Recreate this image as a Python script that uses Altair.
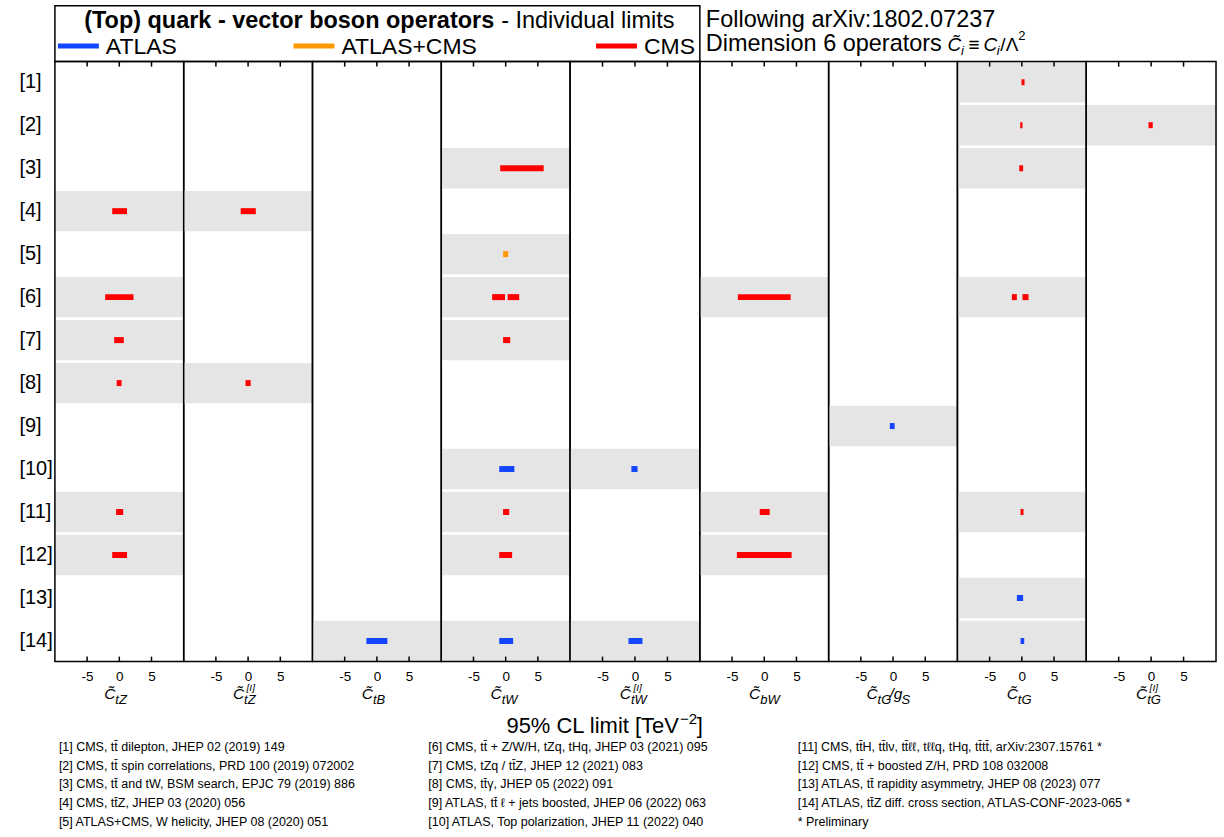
import altair as alt
import pandas as pd

FONT = "Liberation Sans"
GREY = "#e5e5e5"
H = 601
OX, OY = 54, 60

# ---------------- data ----------------
ref_labels = [f"[{i}]" for i in range(1, 15)]
operators = ["tZ", "tZ[I]", "tB", "tW", "tW[I]", "bW", "tG/gS", "tG", "tG[I]"]
op_sub = ["tZ", "tZ", "tB", "tW", "tW", "bW", "tG", "tG", "tG"]
op_sup = ["", "[I]", "", "", "[I]", "", "", "", "[I]"]
experiments = ["ATLAS", "ATLAS+CMS", "CMS"]
exp_colors = ["#1446ff", "#ff9900", "#ff0000"]
tick_values = [-5, 0, 5]

lim_ref = [1, 2, 2, 3, 3, 4, 4, 5, 6, 6, 6, 6, 6, 6, 7, 7, 8, 8, 9, 10, 10,
           11, 11, 11, 11, 12, 12, 12, 13, 14, 14, 14, 14]
lim_op = ["tG", "tG", "tG[I]", "tW", "tG", "tZ", "tZ[I]", "tW",
          "tZ", "tW", "tW", "bW", "tG", "tG", "tZ", "tW", "tZ", "tZ[I]",
          "tG/gS", "tW", "tW[I]", "tZ", "tW", "bW", "tG", "tZ", "tW", "bW",
          "tG", "tB", "tW", "tW[I]", "tG"]
lim_lo = [-0.05, -0.25, -0.40, -0.85, -0.40, -1.10, -1.15, -0.40,
          -2.20, -2.10, 0.30, -4.10, -1.55, 0.10, -0.80, -0.40, -0.40, -0.40,
          -0.50, -1.00, -0.55, -0.50, -0.40, -0.70, -0.20, -1.10, -1.00, -4.25,
          -0.77, -1.63, -1.00, -1.00, -0.20]
lim_hi = [0.42, 0.10, 0.25, 5.90, 0.20, 1.20, 1.20, 0.40,
          2.20, -0.10, 2.10, 4.10, -0.77, 1.04, 0.70, 0.70, 0.35, 0.40,
          0.25, 1.35, 0.40, 0.60, 0.55, 0.85, 0.26, 1.20, 1.00, 4.25,
          0.20, 1.63, 1.16, 1.16, 0.37]
lim_exp = ["CMS", "CMS", "CMS", "CMS", "CMS", "CMS", "CMS", "ATLAS+CMS",
           "CMS", "CMS", "CMS", "CMS", "CMS", "CMS", "CMS", "CMS", "CMS", "CMS",
           "ATLAS", "ATLAS", "ATLAS", "CMS", "CMS", "CMS", "CMS", "CMS", "CMS", "CMS",
           "ATLAS", "ATLAS", "ATLAS", "ATLAS", "ATLAS"]

footnotes_1 = [
    "[1] CMS, tt\u0304 dilepton, JHEP 02 (2019) 149",
    "[2] CMS, tt\u0304 spin correlations, PRD 100 (2019) 072002",
    "[3] CMS, tt\u0304 and tW, BSM search, EPJC 79 (2019) 886",
    "[4] CMS, tt\u0304Z, JHEP 03 (2020) 056",
    "[5] ATLAS+CMS, W helicity, JHEP 08 (2020) 051",
]
footnotes_2 = [
    "[6] CMS, tt\u0304 + Z/W/H, tZq, tHq, JHEP 03 (2021) 095",
    "[7] CMS, tZq / tt\u0304Z, JHEP 12 (2021) 083",
    "[8] CMS, tt\u0304\u03b3, JHEP 05 (2022) 091",
    "[9] ATLAS, tt\u0304 \u2113 + jets boosted, JHEP 06 (2022) 063",
    "[10] ATLAS, Top polarization, JHEP 11 (2022) 040",
]
footnotes_3 = [
    "[11] CMS, tt\u0304H, tt\u0304l\u03bd, tt\u0304\u2113\u2113, t\u2113\u2113q, tHq, tt\u0304tt\u0304, arXiv:2307.15761 *",
    "[12] CMS, tt\u0304 + boosted Z/H, PRD 108 032008",
    "[13] ATLAS, tt\u0304 rapidity asymmetry, JHEP 08 (2023) 077",
    "[14] ATLAS, tt\u0304Z diff. cross section, ATLAS-CONF-2023-065 *",
    "* Preliminary",
]

lims = pd.DataFrame({
    "ref": [f"[{r}]" for r in lim_ref],
    "op": lim_op, "lo": lim_lo, "hi": lim_hi, "exp": lim_exp,
})
bands = lims[["ref", "op"]].drop_duplicates()
ticks_df = pd.DataFrame({"v": tick_values})
dummy = pd.DataFrame({"d": [0]})

# panel widths (pixels), so that the 9 panels span x = 54 .. 1217
panel_w = [129, 129, 129, 129, 130, 129, 129, 129, 130]

# ---------------- helpers ----------------
def label(s, x, y, size, align="left", weight="normal", style="normal", color="black"):
    return alt.Chart(dummy).mark_text(
        text=s, align=align, baseline="alphabetic", fontSize=size,
        fontWeight=weight, fontStyle=style, color=color, font=FONT,
    ).encode(x=alt.value(x), y=alt.value(y))


def page(x, y, *args, **kw):
    return label(args[0], x - OX, y - OY, *args[1:], **kw)


xscale = alt.Scale(domain=[-10, 10], nice=False, zero=False)
xaxis = alt.Axis(
    values=tick_values, title=None, grid=False, domain=False, ticks=False, tickSize=0,
    labelFont=FONT, labelFontSize=13.5, labelColor="black", labelPadding=8,
    labelExpr="datum.value < 0 ? '-' + abs(datum.value) : '' + datum.value",
)
yscale = alt.Scale(domain=ref_labels, paddingInner=0.06, paddingOuter=0.01)
yaxis_first = alt.Axis(
    title=None, grid=False, domain=False, ticks=False, tickSize=0,
    labelFont=FONT, labelFontSize=20, labelColor="black",
    labelAlign="left", labelBaseline="middle", labelPadding=36,
)
color = alt.Color("exp:N", scale=alt.Scale(domain=experiments, range=exp_colors), legend=None)


def panel(k):
    op = operators[k]
    W = panel_w[k]
    if k == 0:
        Y = alt.Y("ref:N", scale=yscale, axis=yaxis_first)
    else:
        Y = alt.Y("ref:N", scale=yscale, axis=None)
    d = lims[lims.op == op]
    b = bands[bands.op == op]
    layers = []
    layers.append(alt.Chart(b).mark_rect(color=GREY).encode(
        y=Y, x=alt.value(0), x2=alt.value(W)))
    layers.append(alt.Chart(d).mark_bar(size=6).encode(
        x=alt.X("lo:Q", scale=xscale, axis=xaxis), x2="hi:Q", y=Y, color=color))
    layers.append(alt.Chart(ticks_df).mark_rule(color="black", strokeWidth=1.5).encode(
        x=alt.X("v:Q", scale=xscale, axis=xaxis), y=alt.value(0), y2=alt.value(5)))
    layers.append(alt.Chart(ticks_df).mark_rule(color="black", strokeWidth=1.5).encode(
        x=alt.X("v:Q", scale=xscale, axis=xaxis), y=alt.value(H - 5), y2=alt.value(H)))
    layers.append(alt.Chart(dummy).mark_rect(fillOpacity=0, stroke="black", strokeWidth=1.5).encode(
        x=alt.value(0), x2=alt.value(W), y=alt.value(0), y2=alt.value(H)))

    # operator label under the panel
    cx = W / 2
    cr = cx - 15.5 if op == "tG/gS" else cx - 4
    layers.append(label("C\u0303", cr, 638.5, 15.5, align="right", style="italic"))
    layers.append(label(op_sub[k], cr, 643, 13, style="italic"))
    if op_sup[k]:
        layers.append(label(op_sup[k], cr + 2.5, 630.5, 10, style="italic"))
    if op == "tG/gS":
        layers.append(label("/g", cx - 3.5, 638.5, 15.5, style="italic"))
        layers.append(label("S", cx + 8.5, 643, 13, style="italic"))

    if k == 0:
        # transparent anchor covering the whole canvas so the layout starts at the page origin
        layers.append(alt.Chart(dummy).mark_rect(opacity=0).encode(
            x=alt.value(-OX), x2=alt.value(1224 - OX), y=alt.value(-OY), y2=alt.value(837 - OY)))
        # header box
        layers.append(alt.Chart(dummy).mark_rect(fillOpacity=0, stroke="black", strokeWidth=1.5).encode(
            x=alt.value(0), x2=alt.value(700 - OX), y=alt.value(4 - OY), y2=alt.value(0)))
        layers.append(page(494, 26.5, "(Top) quark - vector boson operators", 23.5,
                           align="right", weight="bold"))
        layers.append(page(501, 26.5, "- Individual limits", 23.5))
        # legend
        leg_line_x = [(57, 98), (293, 334), (596, 637)]
        for (x1, x2), name, col in zip(leg_line_x, experiments, exp_colors):
            layers.append(alt.Chart(dummy).mark_rule(color=col, strokeWidth=5).encode(
                x=alt.value(x1 - OX), x2=alt.value(x2 - OX), y=alt.value(44.5 - OY)))
            layers.append(page(x2 + 7, 52.5, name, 23))
        # right header
        layers.append(page(706, 25, "Following arXiv:1802.07237", 23.5))
        layers.append(page(706, 49, "Dimension 6 operators", 23.5))
        layers.append(page(948, 49, "C\u0303", 19, style="italic"))
        layers.append(page(961.5, 53, "i", 13, style="italic"))
        layers.append(page(969, 49, "\u2261", 19))
        layers.append(page(984, 49, "C", 19, style="italic"))
        layers.append(page(997.5, 53, "i", 13, style="italic"))
        layers.append(page(1001, 49, "/\u039b", 19))
        layers.append(page(1019, 38, "2", 13))
        # x title
        layers.append(page(679, 733, "95% CL limit [TeV", 22, align="right"))
        layers.append(page(680, 723, "\u22122", 15))
        layers.append(page(697, 733, "]", 22))
        # footnotes
        base = 750.5
        for colx, notes in zip([58, 428, 798], [footnotes_1, footnotes_2, footnotes_3]):
            for i, t in enumerate(notes):
                layers.append(page(colx, base + 18.8 * i, t, 12.5))

    return alt.layer(*layers).properties(width=W, height=H)


panels = [panel(k) for k in range(len(operators))]

chart = alt.hconcat(*panels, spacing=0, bounds="flush").properties(
    padding=0, background="white"
).configure_view(stroke="transparent")

chart.save("out.html", embed_options={"renderer": "svg", "actions": False})
